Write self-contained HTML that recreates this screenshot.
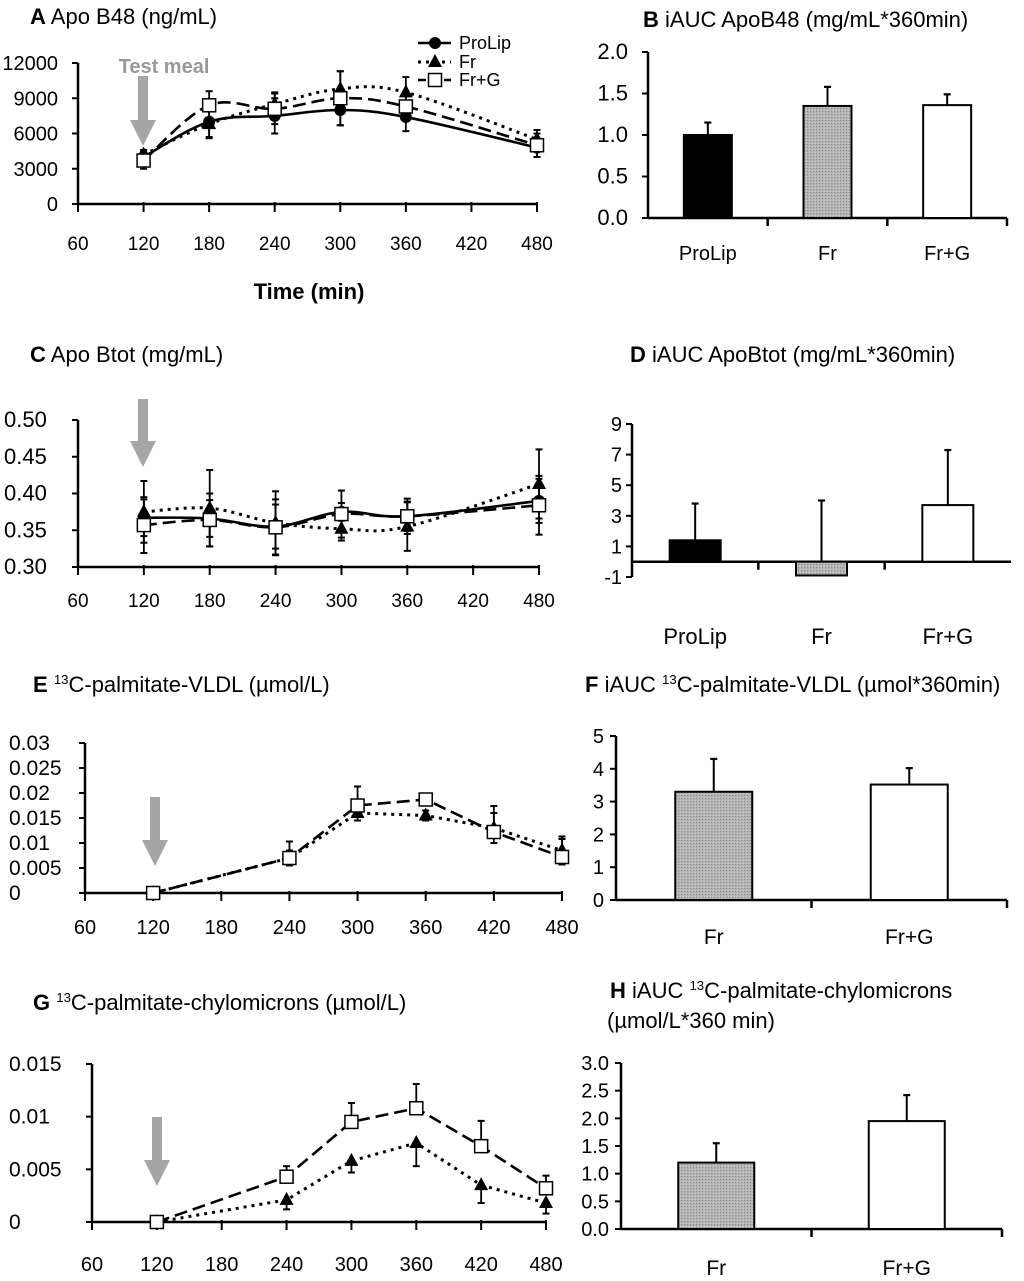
<!DOCTYPE html>
<html><head><meta charset="utf-8"><style>
html,body{margin:0;padding:0;background:#fff;}
svg{display:block;font-family:"Liberation Sans",Arial,sans-serif;}
</style></head><body>
<svg id="fig" width="1024" height="1281" viewBox="0 0 1024 1281" xmlns="http://www.w3.org/2000/svg">
<defs>
<pattern id="hatch" width="3" height="3" patternUnits="userSpaceOnUse">
<rect width="3" height="3" fill="#b4b4b4"/><rect width="1" height="1" fill="#8a8a8a"/><rect x="2" y="2" width="1" height="1" fill="#d0d0d0"/>
</pattern>
</defs>
</svg>
<script>
// ---------- data ----------
const timesA = [120,180,240,300,360,480];
const aProLip = [4000,7000,7500,8000,7400,4800];
const aProLipErr = [500,1300,1500,1300,1200,800];
const aFr = [4200,6800,8500,9800,9500,5500];
const aFrErr = [400,1200,1000,1500,1300,800];
const aFrG = [3700,8400,8100,9000,8300,5000];
const aFrGErr = [700,1200,1300,2300,1100,1000];
const ticksAy = [0,3000,6000,9000,12000];
const ticksX = [60,120,180,240,300,360,420,480];

const timesC = [120,180,240,300,360,480];
const cProLip = [0.367,0.366,0.355,0.375,0.369,0.390];
const cProLipErr = [0.025,0.025,0.030,0.012,0.020,0.030];
const cFr = [0.375,0.380,0.360,0.352,0.355,0.413];
const cFrErr = [0.042,0.052,0.043,0.016,0.033,0.047];
const cFrG = [0.357,0.364,0.354,0.372,0.369,0.384];
const cFrGErr = [0.038,0.036,0.038,0.032,0.024,0.040];
const ticksCy = [0.30,0.35,0.40,0.45,0.50];
const ticksCyLabels = ["0.30","0.35","0.40","0.45","0.50"];

const timesE = [120,240,300,360,420,480];
const eFr = [0,0.007,0.016,0.0155,0.013,0.0085];
const eFrErr = [0,0.0015,0.0015,0.0010,0.0030,0.0028];
const eFrG = [0,0.007,0.0175,0.0187,0.0122,0.0072];
const eFrGErr = [0,0.0033,0.0038,0.0012,0.0052,0.0036];
const ticksEy = [0,0.005,0.01,0.015,0.02,0.025,0.03];
const ticksEyLabels = ["0","0.005","0.01","0.015","0.02","0.025","0.03"];

const timesG = [120,240,300,360,420,480];
const gFr = [0,0.0021,0.0058,0.0075,0.0035,0.0018];
const gFrErr = [0,0.0009,0.0011,0.0022,0.0017,0.0010];
const gFrG = [0,0.0043,0.0095,0.0108,0.0072,0.0032];
const gFrGErr = [0,0.0010,0.0018,0.0023,0.0024,0.0012];
const ticksGy = [0,0.005,0.01,0.015];
const ticksGyLabels = ["0","0.005","0.01","0.015"];

const catsB = ["ProLip","Fr","Fr+G"];
const valsB = [1.0,1.35,1.36];
const errsB = [0.15,0.23,0.13];
const ticksBy = ["0.0","0.5","1.0","1.5","2.0"];

const catsD = ["ProLip","Fr","Fr+G"];
const valsD = [1.4,-0.9,3.7];
const errsD = [2.4,4.0,3.6];
const ticksDy = [-1,1,3,5,7,9];

const catsF = ["Fr","Fr+G"];
const valsF = [3.3,3.52];
const errsF = [1.0,0.5];
const ticksFy = [0,1,2,3,4,5];

const catsH = ["Fr","Fr+G"];
const valsH = [1.2,1.95];
const errsH = [0.35,0.47];
const ticksHy = ["0.0","0.5","1.0","1.5","2.0","2.5","3.0"];

// ---------- helpers ----------
const NS="http://www.w3.org/2000/svg";
const fig=document.getElementById('fig');
function mk(tag,attrs,parent){const e=document.createElementNS(NS,tag);for(const k in attrs)e.setAttribute(k,attrs[k]);(parent||fig).appendChild(e);return e;}
function txt(str,x,y,size,anchor,parent,weight,fill){const t=mk('text',{x:x,y:y,'font-size':size,'text-anchor':anchor||'start','font-weight':weight||'normal',fill:fill||'#000'},parent);t.textContent=str;return t;}
function smoothPath(pts){let d='M'+pts[0][0]+','+pts[0][1];for(let i=0;i<pts.length-1;i++){const p0=pts[i-1]||pts[i],p1=pts[i],p2=pts[i+1],p3=pts[i+2]||p2;const t=0.17;const c1=[p1[0]+(p2[0]-p0[0])*t,p1[1]+(p2[1]-p0[1])*t];const c2=[p2[0]-(p3[0]-p1[0])*t,p2[1]-(p3[1]-p1[1])*t];d+=' C'+c1[0]+','+c1[1]+' '+c2[0]+','+c2[1]+' '+p2[0]+','+p2[1];}return d;}
function linePath(pts){return 'M'+pts.map(p=>p[0]+','+p[1]).join(' L');}
function arrow(x,y1,y2,name){const g=mk('g',{});
 mk('polygon',{points:`${x-5},${y1} ${x+5},${y1} ${x+5},${y2-26} ${x+13},${y2-26} ${x},${y2} ${x-13},${y2-26} ${x-5},${y2-26}`,fill:'#a6a6a6'},g);}
const styles={
 ProLip:{dash:'none',w:2.6,marker:'circle'},
 Fr:{dash:'3,5',w:3,marker:'tri'},
 FrG:{dash:'13,6',w:2.6,marker:'square'}
};
function marker(type,x,y,g){
 if(type==='circle')mk('circle',{cx:x,cy:y,r:6,fill:'#000'},g);
 else if(type==='tri')mk('polygon',{points:`${x},${y-8} ${x+7},${y+5} ${x-7},${y+5}`,fill:'#000'},g);
 else mk('rect',{x:x-6.5,y:y-6.5,width:13,height:13,fill:'#fff',stroke:'#000','stroke-width':1.5},g);
}
function lineChart(o){
 const g=mk('g',{});
 const sx=v=>o.x0+(v-60)/420*(o.x1-o.x0);
 const sy=v=>o.y0+(v-o.ymin)/(o.ymax-o.ymin)*(o.y1-o.y0);
 const ax=mk('g',{},g);
 mk('line',{x1:o.x0,y1:sy(o.ymin),x2:o.x0,y2:sy(o.ymax),stroke:'#000','stroke-width':2.5},ax);
 o.yticks.forEach((v,i)=>{mk('line',{x1:o.x0-6,y1:sy(v),x2:o.x0,y2:sy(v),stroke:'#000','stroke-width':2},ax);
  const t=txt(o.ylabels?o.ylabels[i]:String(v),o.ylabX,sy(v)+7,o.yfs||o.fs,o.ylabAnchor||'end',ax);});
 const xa=mk('g',{},g);
 mk('line',{x1:o.x0,y1:o.y0,x2:o.x1,y2:o.y0,stroke:'#000','stroke-width':2.5},xa);
 ticksX.forEach(v=>{mk('line',{x1:sx(v),y1:o.y0-2,x2:sx(v),y2:o.y0+8,stroke:'#000','stroke-width':2},xa);
  const t=txt(String(v),sx(v),o.xlabY,o.fs,'middle',xa);});
 o.series.forEach(s=>{const st=styles[s.key];const sg=mk('g',{},g);
  const pts=s.vals.map((v,i)=>[sx(s.t[i]),sy(v)]);
  s.vals.forEach((v,i)=>{const x=sx(s.t[i]);const e=s.err[i];if(!e)return;
   const dirs=s.dir||'both';
   if(dirs!=='down'){mk('line',{x1:x,y1:sy(v),x2:x,y2:sy(v+e),stroke:'#000','stroke-width':1.8},sg);mk('line',{x1:x-3.5,y1:sy(v+e),x2:x+3.5,y2:sy(v+e),stroke:'#000','stroke-width':2},sg);}
   if(dirs!=='up'){mk('line',{x1:x,y1:sy(v),x2:x,y2:sy(v-e),stroke:'#000','stroke-width':1.8},sg);mk('line',{x1:x-3.5,y1:sy(v-e),x2:x+3.5,y2:sy(v-e),stroke:'#000','stroke-width':2},sg);}
  });
  const p=mk('path',{d:o.smooth?smoothPath(pts):linePath(pts),fill:'none',stroke:'#000','stroke-width':st.w,'stroke-dasharray':st.dash},sg);
  
  pts.forEach(pt=>marker(st.marker,pt[0],pt[1],sg));
 });
 return {sx,sy};
}
function barChart(o){
 const g=mk('g',{});
 const sy=v=>o.y0+(v-o.ymin)/(o.ymax-o.ymin)*(o.y1-o.y0);
 const n=o.cats.length;const bw=(o.xEnd-o.x0)/n;
 const zy=sy(o.base||0);
 mk('line',{x1:o.x0,y1:sy(o.ymin),x2:o.x0,y2:sy(o.ymax),stroke:'#000','stroke-width':2.5},g);
 o.yticks.forEach((v,i)=>{const val=typeof v==='string'?parseFloat(v):v;mk('line',{x1:o.x0-6,y1:sy(val),x2:o.x0,y2:sy(val),stroke:'#000','stroke-width':2},g);
  const t=txt(String(v),o.x0-o.labGap,sy(val)+7,o.fs,'end',g);});
 mk('line',{x1:o.x0,y1:zy,x2:o.xEnd,y2:zy,stroke:'#000','stroke-width':2.5},g);
 for(let i=1;i<=n;i++){const x=o.x0+bw*i;if(i<n||o.endTick)mk('line',{x1:x,y1:zy,x2:x,y2:zy+8,stroke:'#000','stroke-width':2.5},g);}
 o.cats.forEach((c,i)=>{const cx=o.x0+bw*(i+0.5);const v=o.vals[i];
  const bg=mk('g',{},g);
  const top=Math.min(sy(v),zy),h=Math.abs(sy(v)-zy);
  const e=o.errs[i];const ey=sy((v>0?v:0)+e);const sx0=v>0?sy(v):zy;
  mk('line',{x1:cx,y1:sx0,x2:cx,y2:ey,stroke:'#000','stroke-width':2},bg);
  mk('line',{x1:cx-3.5,y1:ey,x2:cx+3.5,y2:ey,stroke:'#000','stroke-width':2.2},bg);
  mk('rect',{x:cx-o.barW/2,y:top,width:o.barW,height:h,fill:o.fills[i],stroke:'#000','stroke-width':2},bg);
  if(v<0)mk('line',{x1:cx,y1:top,x2:cx,y2:ey,stroke:'#000','stroke-width':2},bg);
  const t=txt(c,cx,o.labY,o.cfs,'middle',g);
 });
}
function title(parts,x,y,size,name){const t=mk('text',{x:x,y:y,'font-size':size});
 parts.forEach(p=>{const s=mk('tspan',p.sup?{'font-size':size*0.6,dy:-8}:(p.after?{dy:8}:{}),t);if(p.b)s.setAttribute('font-weight','bold');s.textContent=p.t;});return t;}

const TS=22;
// ---------- Panel A ----------
lineChart({name:'panel-a-chart',x0:78,x1:537,y0:204,y1:63,ymin:0,ymax:12000,yticks:ticksAy,ylabX:58,xlabY:250,fs:19,yfs:20,smooth:true,
 series:[{key:'ProLip',t:timesA,vals:aProLip,err:aProLipErr},{key:'Fr',t:timesA,vals:aFr,err:aFrErr},{key:'FrG',t:timesA,vals:aFrG,err:aFrGErr}]});
title([{t:'A',b:true},{t:' Apo B48 (ng/mL)'}],30,24,TS,'panel-a-title');
arrow(143,76,146,'test-meal-arrow-a');
txt('Test meal',164,73,20,'middle',null,'bold','#999');
(function(){const lg=mk('g',{});
 [['ProLip','ProLip',43],['Fr','Fr',62],['FrG','Fr+G',80]].forEach(r=>{const st=styles[r[0]];const e=mk('g',{},lg);
  mk('line',{x1:418,y1:r[2],x2:451,y2:r[2],stroke:'#000','stroke-width':st.w,'stroke-dasharray':r[0]==='FrG'?'8,5':st.dash},e);marker(st.marker,435,r[2],e);txt(r[1],459,r[2]+6,18,'start',e);});})();
txt('Time (min)',309,299,22,'middle',null,'bold');

// ---------- Panel B ----------
barChart({name:'panel-b-chart',x0:648,xEnd:1007,y0:218,y1:52,ymin:0,ymax:2,yticks:ticksBy,labGap:20,fs:22,cats:catsB,vals:valsB,errs:errsB,fills:['#000','url(#hatch)','#fff'],barW:48,labY:260,cfs:20,endTick:true});
title([{t:'B',b:true},{t:' iAUC ApoB48 (mg/mL*360min)'}],643,27,TS,'panel-b-title');

// ---------- Panel C ----------
lineChart({name:'panel-c-chart',x0:78,x1:539,y0:567,y1:420,ymin:0.30,ymax:0.50,yticks:ticksCy,ylabels:ticksCyLabels,ylabX:4,ylabAnchor:'start',xlabY:607,fs:19,yfs:22,smooth:true,
 series:[{key:'ProLip',t:timesC,vals:cProLip,err:cProLipErr},{key:'Fr',t:timesC,vals:cFr,err:cFrErr},{key:'FrG',t:timesC,vals:cFrG,err:cFrGErr}]});
title([{t:'C',b:true},{t:' Apo Btot (mg/mL)'}],30,362,TS,'panel-c-title');
arrow(143,399,467,'test-meal-arrow-c');

// ---------- Panel D ----------
barChart({name:'panel-d-chart',x0:632,xEnd:1011,y0:577,y1:424,ymin:-1,ymax:9,base:0,yticks:ticksDy,labGap:10,fs:20,cats:catsD,vals:valsD,errs:errsD,fills:['#000','url(#hatch)','#fff'],barW:51,labY:644,cfs:22});
title([{t:'D',b:true},{t:' iAUC ApoBtot (mg/mL*360min)'}],630,362,TS,'panel-d-title');

// ---------- Panel E ----------
lineChart({name:'panel-e-chart',x0:85,x1:562,y0:893,y1:743,ymin:0,ymax:0.03,yticks:ticksEy,ylabels:ticksEyLabels,ylabX:9,ylabAnchor:'start',xlabY:934,fs:20,yfs:21,
 series:[{key:'Fr',t:timesE,vals:eFr,err:eFrErr},{key:'FrG',t:timesE,vals:eFrG,err:eFrGErr,dir:'up'}]});
title([{t:'E',b:true},{t:' '},{t:'13',sup:true},{t:'C-palmitate-VLDL (µmol/L)',after:true}],33,692,TS,'panel-e-title');
arrow(155,797,866,'test-meal-arrow-e');

// ---------- Panel F ----------
barChart({name:'panel-f-chart',x0:616,xEnd:1007,y0:900,y1:736,ymin:0,ymax:5,yticks:ticksFy,labGap:12,fs:20,cats:catsF,vals:valsF,errs:errsF,fills:['url(#hatch)','#fff'],barW:77,labY:944,cfs:21,endTick:true});
title([{t:'F',b:true},{t:' iAUC '},{t:'13',sup:true},{t:'C-palmitate-VLDL (µmol*360min)',after:true}],585,692,TS,'panel-f-title');

// ---------- Panel G ----------
lineChart({name:'panel-g-chart',x0:92,x1:546,y0:1222,y1:1064,ymin:0,ymax:0.015,yticks:ticksGy,ylabels:ticksGyLabels,ylabX:9,ylabAnchor:'start',xlabY:1271,fs:20,yfs:21,
 series:[{key:'Fr',t:timesG,vals:gFr,err:gFrErr,dir:'down'},{key:'FrG',t:timesG,vals:gFrG,err:gFrGErr,dir:'up'}]});
title([{t:'G',b:true},{t:' '},{t:'13',sup:true},{t:'C-palmitate-chylomicrons (µmol/L)',after:true}],33,1010,TS,'panel-g-title');
arrow(157,1117,1186,'test-meal-arrow-g');

// ---------- Panel H ----------
barChart({name:'panel-h-chart',x0:621,xEnd:1002,y0:1229,y1:1063,ymin:0,ymax:3,yticks:ticksHy,labGap:12,fs:20,cats:catsH,vals:valsH,errs:errsH,fills:['url(#hatch)','#fff'],barW:76,labY:1275,cfs:21,endTick:true});
title([{t:'H',b:true},{t:' iAUC '},{t:'13',sup:true},{t:'C-palmitate-chylomicrons',after:true}],610,998,TS,'panel-h-title');
txt('(µmol/L*360 min)',607,1028,TS,'start');
</script>
</body></html>
